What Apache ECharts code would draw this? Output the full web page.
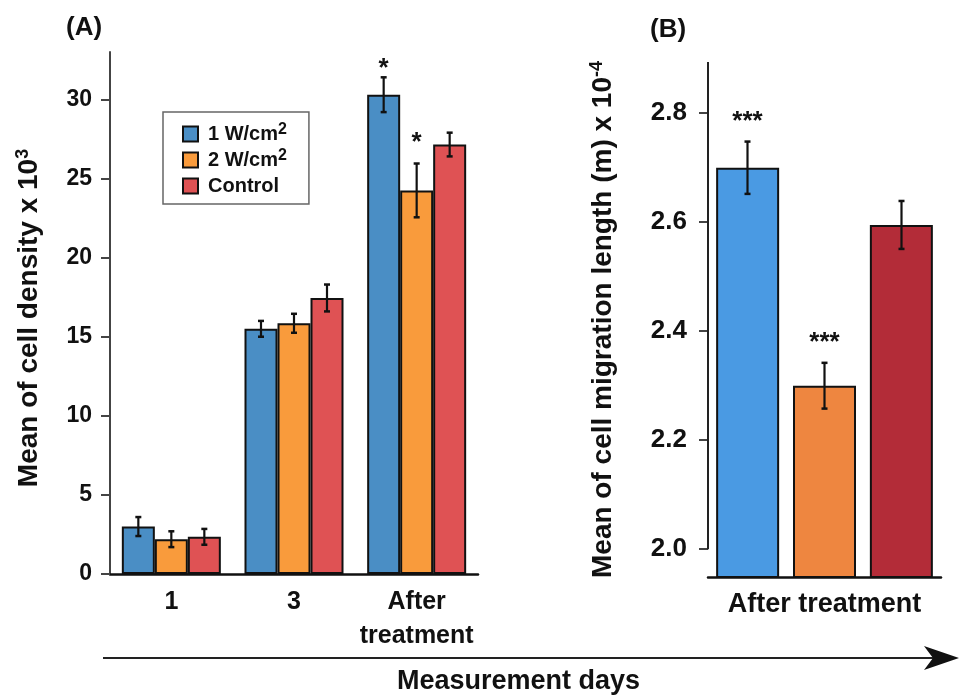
<!DOCTYPE html>
<html><head><meta charset="utf-8">
<script src="https://cdn.jsdelivr.net/npm/echarts@6/dist/echarts.min.js"></script>
<style>html,body{margin:0;padding:0;background:#fff}#c{width:960px;height:699px}</style>
</head><body><div id="c"></div>
<script>
// ---------- data ----------
const categoriesA = ['1', '3', 'After\ntreatment'];
const seriesNames = ['1 W/cm2', '2 W/cm2', 'Control'];
const meanA1 = [3.0, 15.5, 30.3];
const errA1 = [0.6, 0.5, 1.1];
const meanA2 = [2.2, 15.85, 24.25];
const errA2 = [0.5, 0.6, 1.7];
const meanA3 = [2.35, 17.45, 27.15];
const errA3 = [0.5, 0.85, 0.75];
const sigA1 = ['', '', '*'];
const sigA2 = ['', '', '*'];
const sigA3 = ['', '', ''];
const ticksA = [0, 5, 10, 15, 20, 25, 30];

const categoriesB = ['After treatment'];
const meanB1 = [2.70];
const meanB2 = [2.30];
const meanB3 = [2.595];
const errB1 = [0.048];
const errB2 = [0.042];
const errB3 = [0.044];
const sigB1 = ['***'];
const sigB2 = ['***'];
const sigB3 = [''];
const ticksB = [2.0, 2.2, 2.4, 2.6, 2.8];

// ---------- styles ----------
const FF = '"Liberation Sans", Arial, Helvetica, sans-serif';
const colorsA = ['#4A8EC5', '#F99B3C', '#DF5254'];
const colorsB = ['#4A9AE3', '#EE8640', '#B32C38'];
const INK = '#111';

function bar(name, data, color, gi, barW, gap) {
  return {
    type: 'bar', name: name, xAxisIndex: gi, yAxisIndex: gi, data: data,
    barWidth: barW, barGap: gap,
    itemStyle: { color: color, borderColor: INK, borderWidth: 2 },
    emphasis: { disabled: true }, z: 2
  };
}

function errSeries(gi, means, errs, sigs, slot, nSlots, barW, gapW, starGap, starFont) {
  return {
    type: 'custom', xAxisIndex: gi, yAxisIndex: gi, z: 5, silent: true,
    data: means.map((m, i) => [i, m, errs[i]]),
    renderItem: function (params, api) {
      const i = api.value(0), m = api.value(1), e = api.value(2);
      const c = api.coord([i, m]);
      const total = nSlots * barW + (nSlots - 1) * gapW;
      const x = c[0] - total / 2 + barW / 2 + slot * (barW + gapW);
      const yT = api.coord([i, m + e])[1], yB = api.coord([i, m - e])[1];
      const cap = 3;
      const children = [
        { type: 'line', shape: { x1: x, y1: yT, x2: x, y2: yB }, style: { stroke: INK, lineWidth: 2.2 } },
        { type: 'line', shape: { x1: x - cap, y1: yT, x2: x + cap, y2: yT }, style: { stroke: INK, lineWidth: 2.5 } },
        { type: 'line', shape: { x1: x - cap, y1: yB, x2: x + cap, y2: yB }, style: { stroke: INK, lineWidth: 2.5 } }
      ];
      const s = sigs[params.dataIndex];
      if (s) {
        children.push({
          type: 'text', x: x, y: yT - starGap,
          style: { text: s, fill: INK, font: 'bold ' + starFont + 'px ' + FF,
                   align: 'center', verticalAlign: 'middle', textAlign: 'center', textVerticalAlign: 'middle' }
        });
      }
      return { type: 'group', children: children };
    }
  };
}

const supRich = { sup: { fontSize: 18, fontWeight: 'bold', fontFamily: FF, color: INK, verticalAlign: 'top', lineHeight: 18 } };

const chart = echarts.init(document.getElementById('c'), null, { renderer: 'canvas' });
const option = {
  backgroundColor: '#fff',
  animation: false,
  textStyle: { fontFamily: FF },
  grid: [
    { left: 110, top: 52, width: 368, height: 522 },
    { left: 708, top: 62, width: 233, height: 515 }
  ],
  legend: {
    data: seriesNames, orient: 'vertical', left: 163, top: 112,
    padding: [10, 22, 6, 19], itemWidth: 15, itemHeight: 15, itemGap: 2,
    icon: 'rect', borderColor: '#666', borderWidth: 1.5, selectedMode: false,
    formatter: n => n.replace('cm2', 'cm{sup|2}'),
    textStyle: {
      fontSize: 20, fontWeight: 'bold', color: INK, fontFamily: FF, lineHeight: 24, padding: [0, 0, 0, 5],
      rich: { sup: { fontSize: 16, fontWeight: 'bold', fontFamily: FF, color: INK, verticalAlign: 'top', lineHeight: 14 } }
    }
  },
  xAxis: [
    {
      gridIndex: 0, type: 'category', data: categoriesA,
      axisLine: { lineStyle: { color: INK, width: 2.5 } }, axisTick: { show: false },
      axisLabel: { interval: 0, color: INK, fontSize: 25, fontWeight: 'bold', fontFamily: FF, margin: 11, lineHeight: 34 }
    },
    {
      gridIndex: 1, type: 'category', data: categoriesB,
      axisLine: { lineStyle: { color: INK, width: 2.5 } }, axisTick: { show: false },
      axisLabel: { interval: 0, color: INK, fontSize: 27, fontWeight: 'bold', fontFamily: FF, margin: 11, lineHeight: 34 }
    }
  ],
  yAxis: [
    {
      gridIndex: 0, type: 'value', min: 0, max: 33, splitLine: { show: false },
      axisLine: { show: true, lineStyle: { color: '#444', width: 2 } },
      axisTick: { show: true, length: 9, lineStyle: { color: '#444', width: 2 }, customValues: ticksA },
      axisLabel: { customValues: ticksA, color: INK, fontSize: 23, fontWeight: 'bold', fontFamily: FF, margin: 18 },
      name: 'Mean of cell density x 10{sup|3}', nameLocation: 'middle', nameRotate: 90, nameGap: 66,
      nameTextStyle: { color: INK, fontSize: 28, fontWeight: 'bold', fontFamily: FF, lineHeight: 30, rich: supRich, padding: [0, 10, 0, 0] }
    },
    {
      gridIndex: 1, type: 'value', min: 1.949, max: 2.894, splitLine: { show: false },
      axisLine: { show: false },
      axisTick: { show: true, length: 9, lineStyle: { color: '#444', width: 2 }, customValues: ticksB },
      axisLabel: { customValues: ticksB, color: INK, fontSize: 26, fontWeight: 'bold', fontFamily: FF, margin: 21,
                   formatter: v => Number(v).toFixed(1) },
      name: 'Mean of cell migration length (m) x 10{sup|-4}', nameLocation: 'middle', nameRotate: 90, nameGap: 90,
      nameTextStyle: { color: INK, fontSize: 28, fontWeight: 'bold', fontFamily: FF, lineHeight: 30, rich: supRich }
    }
  ],
  series: [
    bar(seriesNames[0], meanA1, colorsA[0], 0, 33, '0%'),
    bar(seriesNames[1], meanA2, colorsA[1], 0, 33, '0%'),
    bar(seriesNames[2], meanA3, colorsA[2], 0, 33, '0%'),
    errSeries(0, meanA1, errA1, sigA1, 0, 3, 33, 0, 8, 26),
    errSeries(0, meanA2, errA2, sigA2, 1, 3, 33, 0, 21, 26),
    errSeries(0, meanA3, errA3, sigA3, 2, 3, 33, 0, 10, 26),
    bar('B ' + seriesNames[0], meanB1, colorsB[0], 1, 63, '22%'),
    bar('B ' + seriesNames[1], meanB2, colorsB[1], 1, 63, '22%'),
    bar('B ' + seriesNames[2], meanB3, colorsB[2], 1, 63, '22%'),
    errSeries(1, meanB1, errB1, sigB1, 0, 3, 63, 14, 20, 26),
    errSeries(1, meanB2, errB2, sigB2, 1, 3, 63, 14, 20, 26),
    errSeries(1, meanB3, errB3, sigB3, 2, 3, 63, 14, 20, 26),
    {
      // panel B y-axis line: from lowest labelled tick up to top of plot
      type: 'custom', xAxisIndex: 1, yAxisIndex: 1, silent: true, z: 6,
      data: [[0, ticksB[0]]],
      renderItem: function (params, api) {
        const cs = params.coordSys;
        const y0 = api.coord([0, api.value(1)])[1];
        return { type: 'line', shape: { x1: cs.x, y1: y0, x2: cs.x, y2: cs.y }, style: { stroke: '#222', lineWidth: 2 } };
      }
    }
  ],
  graphic: [
    { type: 'text', left: 66, top: 15, style: { text: '(A)', font: 'bold 26px ' + FF, fill: INK } },
    { type: 'text', left: 650, top: 17, style: { text: '(B)', font: 'bold 26px ' + FF, fill: INK } },
    { type: 'line', shape: { x1: 103, y1: 658, x2: 935, y2: 658 }, style: { stroke: '#222', lineWidth: 2 } },
    { type: 'polygon', shape: { points: [[959, 658], [924, 646], [933, 658], [924, 670]] }, style: { fill: INK } },
    { type: 'text', top: 668, left: 397, style: { text: 'Measurement days', font: 'bold 27px ' + FF, fill: INK } }
  ]
};
chart.setOption(option);
</script>
</body></html>
